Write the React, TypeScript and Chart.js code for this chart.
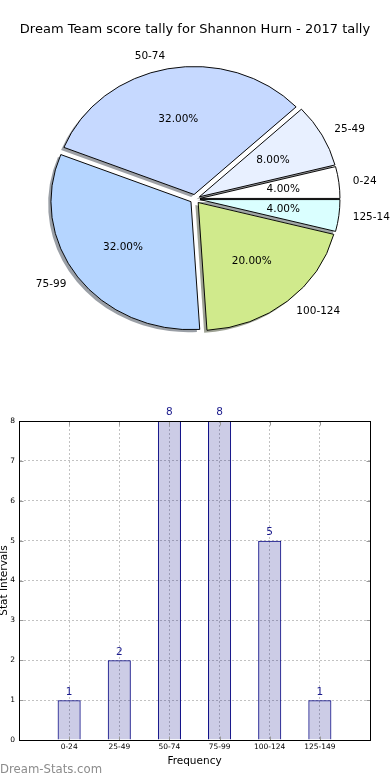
import React, { useEffect, useRef } from 'react';
import { Chart, registerables } from 'chart.js';

Chart.register(...registerables);

// ---------- data ----------
const titleText = 'Dream Team score tally for Shannon Hurn - 2017 tally';
const categories = ['0-24', '25-49', '50-74', '75-99', '100-124', '125-149'];
const counts = [1, 2, 8, 8, 5, 1];
const sliceColors = ['#ffffff', '#e8f0ff', '#c6d9ff', '#b5d5ff', '#d0ea8c', '#daffff'];
const yTickValues = [0, 1, 2, 3, 4, 5, 6, 7, 8];
const xAxisTitle = 'Frequency';
const yAxisTitle = 'Stat Intervals';
const watermark = 'Dream-Stats.com';

// ---------- styles ----------
const FONT = "'DejaVu Sans', sans-serif";
const PIE_R = 140;
const Y_SQUASH = 128 / 140;
const EXPLODE = 5;
const W = 390;
const H = 390;

// pie drawn clockwise from 3 o'clock -> reverse order to match counter-clockwise layout
const pieLabels = [...categories].reverse();
const pieValues = [...counts].reverse();
const pieColors = [...sliceColors].reverse();
const total = counts.reduce((a, b) => a + b, 0);

function shadowColor(hex: string) {
  const h = hex.replace('#', '');
  const r = parseInt(h.slice(0, 2), 16);
  const g = parseInt(h.slice(2, 4), 16);
  const b = parseInt(h.slice(4, 6), 16);
  return `rgba(${Math.round(r * 0.3)},${Math.round(g * 0.3)},${Math.round(b * 0.3)},0.5)`;
}

const pieExtras = {
  id: 'pieExtras',
  afterDatasetsUpdate(chart: any) {
    const meta = chart.getDatasetMeta(0);
    meta.data.forEach((arc: any) => {
      const mid = (arc.startAngle + arc.endAngle) / 2;
      arc.x += Math.cos(mid) * EXPLODE;
      arc.y += Math.sin(mid) * EXPLODE;
    });
  },
  beforeDatasetsDraw(chart: any) {
    const { ctx, chartArea } = chart;
    const cx = (chartArea.left + chartArea.right) / 2;
    const cy = (chartArea.top + chartArea.bottom) / 2;
    ctx.save();
    ctx.translate(cx, cy);
    ctx.scale(1, Y_SQUASH);
    ctx.translate(-cx, -cy);
    const meta = chart.getDatasetMeta(0);
    const sx = -2.8;
    const sy = 2.5 / Y_SQUASH;
    meta.data.forEach((arc: any, i: number) => {
      ctx.beginPath();
      ctx.moveTo(arc.x + sx, arc.y + sy);
      ctx.arc(arc.x + sx, arc.y + sy, arc.outerRadius, arc.startAngle, arc.endAngle);
      ctx.closePath();
      ctx.fillStyle = shadowColor(pieColors[i]);
      ctx.fill();
    });
  },
  afterDatasetsDraw(chart: any) {
    const { ctx, chartArea } = chart;
    ctx.restore();
    const cx = (chartArea.left + chartArea.right) / 2;
    const cy = (chartArea.top + chartArea.bottom) / 2;
    const meta = chart.getDatasetMeta(0);
    ctx.save();
    ctx.fillStyle = '#000';
    ctx.font = `10.5px ${FONT}`;
    ctx.textBaseline = 'middle';
    meta.data.forEach((arc: any, i: number) => {
      const mid = (arc.startAngle + arc.endAngle) / 2;
      const ux = Math.cos(mid);
      const uy = Math.sin(mid);
      const r = arc.outerRadius;
      const dl = EXPLODE + 1.1 * r;
      ctx.textAlign = ux > 0 ? 'left' : 'right';
      ctx.fillText(pieLabels[i], cx + ux * dl, cy + uy * dl * Y_SQUASH);
      const dp = EXPLODE + 0.6 * r;
      ctx.textAlign = 'center';
      const pct = ((pieValues[i] / total) * 100).toFixed(2) + '%';
      ctx.fillText(pct, cx + ux * dp, cy + uy * dp * Y_SQUASH);
    });
    ctx.restore();
  },
};

const barExtras = {
  id: 'barExtras',
  afterDatasetsDraw(chart: any) {
    const { ctx } = chart;
    const meta = chart.getDatasetMeta(0);
    ctx.save();
    ctx.fillStyle = '#1a1a8c';
    ctx.font = `10.5px ${FONT}`;
    ctx.textAlign = 'center';
    ctx.textBaseline = 'bottom';
    meta.data.forEach((bar: any, i: number) => {
      ctx.fillText(String(counts[i]), bar.x, bar.y - 3);
    });
    ctx.restore();
  },
  afterDraw(chart: any) {
    const { ctx, chartArea, scales } = chart;
    const l = Math.round(chartArea.left) + 0.5;
    const r = Math.round(chartArea.right) + 0.5;
    const t = Math.round(chartArea.top) + 0.5;
    const b = Math.round(chartArea.bottom) + 0.5;
    ctx.save();
    // inner tick marks
    ctx.strokeStyle = '#999';
    ctx.lineWidth = 1;
    ctx.beginPath();
    yTickValues.forEach((v) => {
      const y = Math.round(scales.y.getPixelForValue(v)) + 0.5;
      ctx.moveTo(l, y); ctx.lineTo(l + 4, y);
      ctx.moveTo(r, y); ctx.lineTo(r - 4, y);
    });
    categories.forEach((_, i) => {
      const x = Math.round(scales.x.getPixelForValue(i)) + 0.5;
      ctx.moveTo(x, t); ctx.lineTo(x, t + 4);
      ctx.moveTo(x, b); ctx.lineTo(x, b - 4);
    });
    ctx.stroke();
    // frame
    ctx.strokeStyle = '#000';
    ctx.strokeRect(l, t, r - l, b - t);
    // watermark
    ctx.fillStyle = '#8c8c8c';
    ctx.font = `11.7px ${FONT}`;
    ctx.textAlign = 'left';
    ctx.textBaseline = 'middle';
    ctx.fillText(watermark, 0, 380);
    ctx.restore();
  },
};

export default function App() {
  const pieRef = useRef<HTMLCanvasElement | null>(null);
  const barRef = useRef<HTMLCanvasElement | null>(null);

  useEffect(() => {
    document.body.style.margin = '0';
    const pie = new Chart(pieRef.current as HTMLCanvasElement, {
      type: 'pie',
      data: {
        labels: pieLabels,
        datasets: [
          {
            data: pieValues,
            backgroundColor: pieColors,
            borderColor: '#000',
            borderWidth: 1,
            radius: PIE_R,
            rotation: 90,
          } as any,
        ],
      },
      options: {
        animation: false,
        responsive: false,
        events: [],
        devicePixelRatio: 1,
        layout: { padding: { top: 0, bottom: 29.6, left: 0, right: 0 } },
        plugins: {
          legend: { display: false },
          tooltip: { enabled: false },
          title: {
            display: true,
            text: titleText,
            color: '#000',
            font: { family: FONT, size: 13, weight: 'normal' },
            padding: { top: 22, bottom: 0 },
          },
        },
      } as any,
      plugins: [pieExtras],
    });

    const tickFont = { family: FONT, size: 7.5 };
    const bar = new Chart(barRef.current as HTMLCanvasElement, {
      type: 'bar',
      data: {
        datasets: [
          {
            data: counts.map((v, i) => ({ x: i, y: v })),
            backgroundColor: 'rgba(0,0,128,0.2)',
            borderColor: '#000080',
            borderWidth: 1,
            categoryPercentage: 1,
            barPercentage: 0.46,
          } as any,
        ],
      },
      options: {
        animation: false,
        responsive: false,
        events: [],
        devicePixelRatio: 1,
        layout: { padding: { top: 31, right: 20, left: 0, bottom: 0 } },
        plugins: { legend: { display: false }, tooltip: { enabled: false } },
        scales: {
          x: {
            type: 'linear',
            min: -1,
            max: 6,
            offset: false,
            afterBuildTicks: (s: any) => {
              s.ticks = categories.map((_, i) => ({ value: i }));
            },
            afterFit: (s: any) => {
              s.height = 40;
            },
            ticks: {
              callback: (v: any) => categories[v] ?? '',
              font: tickFont,
              color: '#000',
              padding: 3,
              autoSkip: false,
              maxRotation: 0,
            },
            grid: { color: '#c2c2c2', drawTicks: false, offset: false },
            border: { color: '#000', dash: [2, 2] },
            title: {
              display: true,
              text: xAxisTitle,
              color: '#000',
              font: { family: FONT, size: 10.5 },
              padding: { top: 0, bottom: 12.7 },
            },
          },
          y: {
            min: 0,
            max: 8,
            afterBuildTicks: (s: any) => {
              s.ticks = yTickValues.map((v) => ({ value: v }));
            },
            afterFit: (s: any) => {
              s.width = 19;
            },
            ticks: { font: { family: FONT, size: 7.5 }, color: '#000', padding: 4 },
            grid: { color: '#c2c2c2', drawTicks: false },
            border: { color: '#000', dash: [2, 2] },
            title: {
              display: true,
              text: yAxisTitle,
              color: '#000',
              font: { family: FONT, size: 10.5 },
              padding: { top: -2, bottom: 0 },
            },
          },
        },
      } as any,
      plugins: [barExtras],
    });

    return () => {
      pie.destroy();
      bar.destroy();
    };
  }, []);

  return (
    <div style={{ width: W, height: H * 2 }}>
      <canvas ref={pieRef} width={W} height={H} style={{ display: 'block' }} />
      <canvas ref={barRef} width={W} height={H} style={{ display: 'block' }} />
    </div>
  );
}
